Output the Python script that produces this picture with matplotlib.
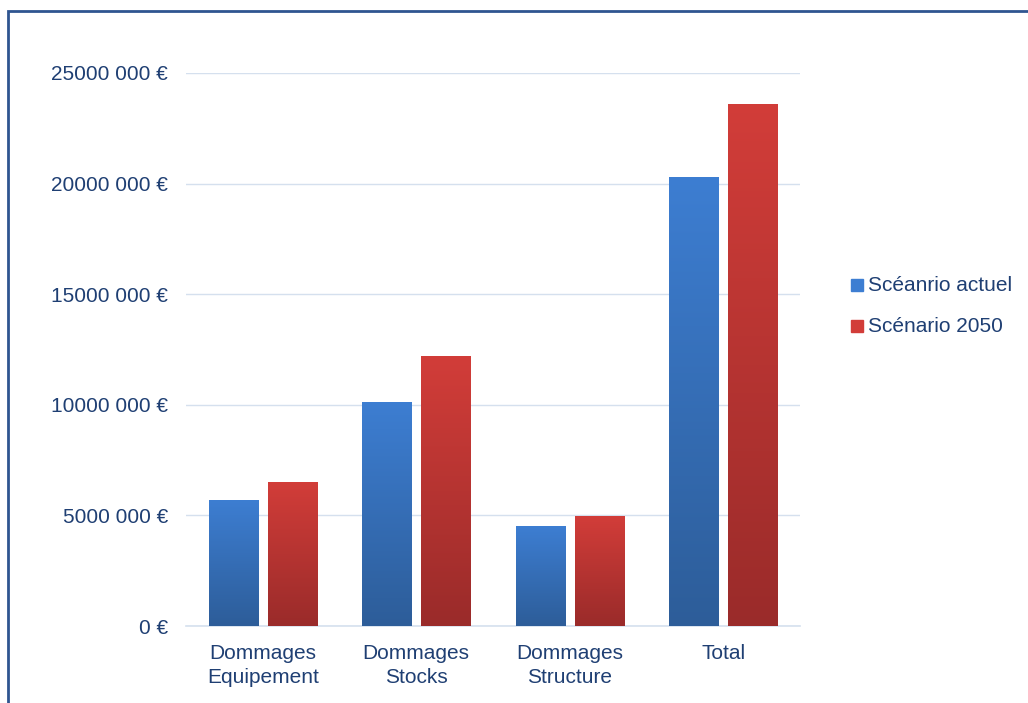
import numpy as np
import matplotlib
matplotlib.use('Agg')
import matplotlib.pyplot as plt
from matplotlib.patches import Rectangle
from matplotlib.colors import LinearSegmentedColormap
from matplotlib.ticker import FuncFormatter

plt.rcParams['font.family'] = ['Liberation Sans', 'DejaVu Sans']

# data (EUR)
categories = ['Dommages\nEquipement', 'Dommages\nStocks', 'Dommages\nStructure', 'Total']
actuel = [5700000, 10130000, 4520000, 20300000]
sc2050 = [6510000, 12210000, 4970000, 23600000]
series_names = ['Scéanrio actuel', 'Scénario 2050']

txt_col = '#1F3F73'
grid_col = '#D5E0EE'
blue_top, blue_bot = '#3D7ED2', '#2D5D99'
red_top, red_bot = '#D23D39', '#9A2B2A'

W, H = 1028, 703
fig = plt.figure(figsize=(W / 100, H / 100), dpi=100)
ax = fig.add_axes([186 / W, 1 - 626 / H, (800 - 186) / W, (626 - 73) / H * 1.0])

x = np.arange(len(categories))
w = 0.32
off = 0.192

def grad_bars(xs, vals, top, bot, label):
    bars = ax.bar(xs, vals, w, color=top, label=label, zorder=3)
    cmap = LinearSegmentedColormap.from_list('g', [bot, top])
    grad = np.linspace(0, 1, 256).reshape(-1, 1)
    for b in bars:
        x0, y0 = b.get_x(), b.get_y()
        im = ax.imshow(grad, cmap=cmap, aspect='auto', origin='lower',
                       extent=[x0, x0 + b.get_width(), y0, y0 + b.get_height()], zorder=4)
        im.set_clip_path(b)
    return bars

grad_bars(x - off, actuel, blue_top, blue_bot, series_names[0])
grad_bars(x + off, sc2050, red_top, red_bot, series_names[1])

ax.set_xlim(-0.5, len(categories) - 0.5)
ax.set_ylim(0, 25000000)
ax.set_yticks(np.arange(0, 25000001, 5000000))
ax.yaxis.set_major_formatter(FuncFormatter(
    lambda v, p: '0 €' if v == 0 else '{} {:03d} €'.format(int(v) // 1000, 0)))
ax.set_xticks(x)
ax.set_xticklabels(categories, fontsize=15, color=txt_col, linespacing=1.3)
ax.tick_params(axis='y', labelsize=15, labelcolor=txt_col, length=0, pad=13)
ax.tick_params(axis='x', length=0, pad=13)
ax.grid(axis='y', color=grid_col, lw=1, zorder=0)
for s in ['top', 'right', 'left']:
    ax.spines[s].set_visible(False)
ax.spines['bottom'].set_color(grid_col)
ax.spines['bottom'].set_linewidth(1.2)

# legend
leg_colors = [blue_top, red_top]
for i, (nm, c) in enumerate(zip(series_names, leg_colors)):
    yy = 1 - (285 + i * 41) / H
    fig.patches.append(Rectangle((851 / W, yy - 6 / H), 12 / W, 12 / H,
                                 transform=fig.transFigure, color=c))
    fig.text(868 / W, yy, nm, fontsize=15, color=txt_col, va='center', ha='left')

# outer border
fig.patches.append(Rectangle((8 / W, -0.1), 1.2, 1.1 - 11 / H, transform=fig.transFigure,
                             fill=False, edgecolor='#2F5590', lw=2))

fig.savefig('out.png', dpi=100)
